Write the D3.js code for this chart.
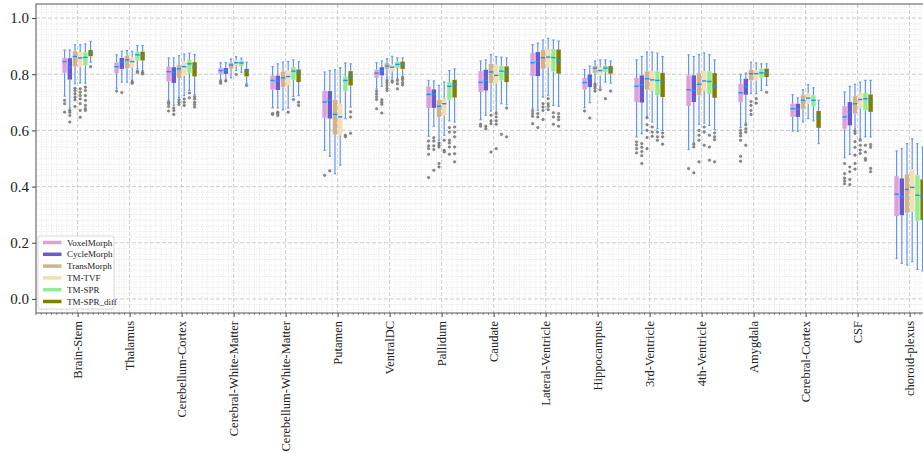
<!DOCTYPE html>
<html>
<head>
<meta charset="utf-8">
<script src="https://cdn.jsdelivr.net/npm/d3@7"></script>
<style>
  body { margin: 0; background: #fff; }
  svg { display: block; font-family: "Liberation Serif", "DejaVu Serif", serif; }
</style>
</head>
<body>
<div id="chart"></div>
<script>
// regions on the x axis
const categories = ["Brain-Stem", "Thalamus", "Cerebellum-Cortex", "Cerebral-White-Matter",
    "Cerebellum-White-Matter", "Putamen", "VentralDC", "Pallidum", "Caudate", "Lateral-Ventricle",
    "Hippocampus", "3rd-Ventricle", "4th-Ventricle", "Amygdala", "Cerebral-Cortex", "CSF", "choroid-plexus"];

const seriesNames = ["VoxelMorph", "CycleMorph", "TransMorph", "TM-TVF", "TM-SPR", "TM-SPR_diff"];

const yTicks = [0.0, 0.2, 0.4, 0.6, 0.8, 1.0];

// each box: [whisker low, q1, median, q3, whisker high]
const voxelMorph = [
    [0.722, 0.805, 0.845, 0.858, 0.886], [0.75, 0.804, 0.827, 0.841, 0.869], [0.707, 0.774, 0.809, 0.827, 0.858],
    [0.78, 0.801, 0.813, 0.822, 0.841], [0.68, 0.745, 0.778, 0.795, 0.827], [0.529, 0.645, 0.701, 0.74, 0.808],
    [0.748, 0.787, 0.804, 0.816, 0.841], [0.579, 0.68, 0.728, 0.757, 0.778], [0.638, 0.737, 0.771, 0.811, 0.847],
    [0.677, 0.793, 0.841, 0.876, 0.905], [0.681, 0.745, 0.77, 0.787, 0.817], [0.577, 0.701, 0.757, 0.787, 0.851],
    [0.532, 0.687, 0.745, 0.796, 0.869], [0.61, 0.701, 0.734, 0.766, 0.799], [0.598, 0.648, 0.677, 0.695, 0.727],
    [0.503, 0.606, 0.648, 0.686, 0.737], [0.145, 0.295, 0.373, 0.437, 0.527]
];
const cycleMorph = [
    [0.68, 0.781, 0.825, 0.857, 0.886], [0.772, 0.819, 0.843, 0.858, 0.882], [0.689, 0.769, 0.807, 0.825, 0.858],
    [0.78, 0.801, 0.813, 0.822, 0.841], [0.68, 0.744, 0.775, 0.795, 0.837], [0.508, 0.642, 0.707, 0.74, 0.813],
    [0.757, 0.796, 0.813, 0.825, 0.847], [0.615, 0.68, 0.728, 0.746, 0.776], [0.654, 0.742, 0.778, 0.816, 0.851],
    [0.671, 0.793, 0.845, 0.879, 0.911], [0.699, 0.754, 0.786, 0.799, 0.829], [0.588, 0.699, 0.763, 0.796, 0.863],
    [0.555, 0.701, 0.742, 0.796, 0.863], [0.626, 0.727, 0.755, 0.784, 0.804], [0.597, 0.648, 0.675, 0.695, 0.716],
    [0.515, 0.618, 0.666, 0.701, 0.757], [0.127, 0.298, 0.364, 0.429, 0.535]
];
const transMorph = [
    [0.766, 0.828, 0.863, 0.882, 0.905], [0.772, 0.821, 0.851, 0.866, 0.884], [0.718, 0.787, 0.819, 0.833, 0.866],
    [0.787, 0.819, 0.833, 0.841, 0.854], [0.673, 0.754, 0.787, 0.809, 0.843], [0.446, 0.585, 0.657, 0.709, 0.816],
    [0.787, 0.817, 0.829, 0.84, 0.855], [0.565, 0.648, 0.686, 0.709, 0.76], [0.669, 0.768, 0.808, 0.837, 0.87],
    [0.719, 0.819, 0.859, 0.887, 0.922], [0.768, 0.805, 0.822, 0.829, 0.847], [0.648, 0.745, 0.784, 0.81, 0.879],
    [0.622, 0.725, 0.764, 0.804, 0.87], [0.731, 0.778, 0.802, 0.816, 0.843], [0.63, 0.677, 0.707, 0.725, 0.745],
    [0.605, 0.66, 0.695, 0.722, 0.764], [0.121, 0.307, 0.39, 0.444, 0.553]
];
const tmTVF = [
    [0.769, 0.827, 0.858, 0.878, 0.905], [0.778, 0.825, 0.845, 0.86, 0.882], [0.724, 0.795, 0.827, 0.845, 0.872],
    [0.813, 0.833, 0.841, 0.849, 0.863], [0.68, 0.762, 0.792, 0.813, 0.845], [0.476, 0.583, 0.648, 0.695, 0.823],
    [0.787, 0.811, 0.825, 0.834, 0.864], [0.583, 0.654, 0.695, 0.713, 0.772], [0.665, 0.768, 0.796, 0.834, 0.863],
    [0.725, 0.825, 0.861, 0.89, 0.928], [0.754, 0.796, 0.813, 0.825, 0.851], [0.63, 0.742, 0.78, 0.811, 0.879],
    [0.626, 0.74, 0.776, 0.811, 0.876], [0.731, 0.778, 0.802, 0.813, 0.84], [0.642, 0.695, 0.715, 0.731, 0.763],
    [0.571, 0.68, 0.71, 0.734, 0.772], [0.133, 0.31, 0.397, 0.461, 0.571]
];
const tmSPR = [
    [0.768, 0.831, 0.86, 0.878, 0.908], [0.819, 0.849, 0.869, 0.88, 0.902], [0.742, 0.805, 0.837, 0.851, 0.875],
    [0.807, 0.828, 0.84, 0.849, 0.857], [0.721, 0.78, 0.811, 0.825, 0.851], [0.642, 0.739, 0.778, 0.792, 0.84],
    [0.784, 0.822, 0.835, 0.845, 0.858], [0.634, 0.709, 0.757, 0.772, 0.813], [0.695, 0.778, 0.811, 0.831, 0.861],
    [0.689, 0.81, 0.859, 0.89, 0.922], [0.772, 0.808, 0.822, 0.831, 0.851], [0.606, 0.725, 0.778, 0.81, 0.875],
    [0.618, 0.73, 0.774, 0.81, 0.87], [0.742, 0.788, 0.805, 0.82, 0.837], [0.634, 0.686, 0.707, 0.725, 0.752],
    [0.577, 0.671, 0.713, 0.733, 0.778], [0.105, 0.278, 0.369, 0.44, 0.553]
];
const tmSPRdiff = [
    [0.843, 0.864, 0.875, 0.886, 0.917], [0.813, 0.849, 0.866, 0.88, 0.902], [0.727, 0.792, 0.825, 0.843, 0.87],
    [0.766, 0.792, 0.811, 0.819, 0.843], [0.724, 0.772, 0.804, 0.817, 0.845], [0.683, 0.76, 0.792, 0.811, 0.837],
    [0.792, 0.819, 0.837, 0.845, 0.858], [0.63, 0.717, 0.764, 0.78, 0.819], [0.691, 0.772, 0.808, 0.828, 0.858],
    [0.686, 0.802, 0.849, 0.888, 0.918], [0.768, 0.802, 0.819, 0.829, 0.847], [0.6, 0.719, 0.774, 0.805, 0.863],
    [0.603, 0.716, 0.757, 0.804, 0.851], [0.76, 0.79, 0.805, 0.82, 0.837], [0.553, 0.609, 0.648, 0.669, 0.707],
    [0.577, 0.666, 0.704, 0.728, 0.778], [0.1, 0.281, 0.364, 0.426, 0.541]
];

// outliers per region
const voxelMorphOut = [[0.707, 0.695, 0.665], [0.74], [0.7, 0.695, 0.685, 0.669], [0.775, 0.768], [0.66, 0.657],
    [0.44], [0.74, 0.73, 0.72, 0.71, 0.677], [0.562, 0.545, 0.535, 0.515, 0.432], [0.622, 0.615],
    [0.67, 0.66, 0.65, 0.624], [0.669], [0.559, 0.548, 0.535, 0.52], [0.464], [0.6, 0.59, 0.58, 0.565, 0.508, 0.49],
    [], [0.482, 0.446, 0.43, 0.42, 0.41], []];
const cycleMorphOut = [[0.672, 0.665, 0.653, 0.63], [0.735], [0.68, 0.671, 0.657], [0.776], [0.665, 0.659, 0.653],
    [0.456], [0.709, 0.7, 0.693, 0.662], [0.574, 0.562, 0.545, 0.532, 0.458], [0.615, 0.606], [0.66, 0.648, 0.61],
    [0.644], [0.553, 0.54, 0.525, 0.51, 0.482], [0.551, 0.541, 0.449], [0.62, 0.606, 0.594, 0.547], [],
    [0.47, 0.453, 0.425, 0.407], []];
const transMorphOut = [[0.75, 0.742, 0.73, 0.718, 0.709, 0.685], [], [0.709, 0.7, 0.692], [], [], [],
    [0.778, 0.77, 0.76, 0.75, 0.742], [0.555, 0.547, 0.541, 0.482, 0.47], [0.654, 0.634, 0.624, 0.523],
    [0.695, 0.683, 0.671, 0.639], [0.764, 0.757, 0.75, 0.74], [0.645, 0.62, 0.6, 0.575, 0.535],
    [0.6, 0.583, 0.565, 0.488], [0.703, 0.689, 0.671, 0.657], [], [0.598, 0.589, 0.56, 0.54, 0.512, 0.482, 0.462], []];
const tmTVFOut = [[0.748, 0.736, 0.724, 0.712, 0.695, 0.671, 0.647], [0.772, 0.768], [0.712, 0.7, 0.689], [0.799],
    [0.665], [], [0.777, 0.772], [0.565, 0.529, 0.523], [0.66, 0.648, 0.634, 0.622, 0.535], [0.713, 0.695, 0.686, 0.674],
    [0.745], [0.612, 0.594, 0.579], [0.612, 0.594, 0.547], [0.713, 0.697], [], [0.565, 0.547, 0.53, 0.518], []];
const tmSPROut = [[0.754, 0.742, 0.724, 0.707, 0.689, 0.677, 0.671], [0.81, 0.806], [0.733, 0.716], [], [0.71],
    [0.583, 0.577], [0.778, 0.766, 0.748], [0.61, 0.594, 0.565, 0.555, 0.541, 0.515], [0.586], [0.663, 0.648, 0.622],
    [0.713], [0.594, 0.577, 0.565], [0.583, 0.541, 0.494], [], [], [0.547, 0.523, 0.5, 0.494], []];
const tmSPRdiffOut = [[0.827], [0.807, 0.801], [0.72, 0.712, 0.7, 0.692, 0.683], [0.76], [0.7, 0.689],
    [0.666, 0.648, 0.59], [0.787, 0.78, 0.77, 0.762], [0.612, 0.594, 0.577, 0.541, 0.517, 0.488], [0.68, 0.577],
    [0.66, 0.648, 0.638, 0.615], [0.74], [0.591, 0.577, 0.551], [0.591, 0.577, 0.567, 0.488], [0.736], [],
    [0.55, 0.54, 0.465, 0.453], []];

const seriesStats = [voxelMorph, cycleMorph, transMorph, tmTVF, tmSPR, tmSPRdiff];
const seriesOut = [voxelMorphOut, cycleMorphOut, transMorphOut, tmTVFOut, tmSPROut, tmSPRdiffOut];
const colors = ["#dda0dd", "#6a5acd", "#d2b48c", "#f5deb3", "#90ee90", "#808000"];
const offsets = [-0.25, -0.15, -0.05, 0.05, 0.15, 0.25];

const width = 923, height = 453;
const margin = {top: 4, left: 36, bottom: 140};
const unit = 52; // px per category

const svg = d3.select("#chart").append("svg")
    .attr("width", width)
    .attr("height", height);

const x = d3.scaleLinear().domain([0.2, 17.8]).range([margin.left, margin.left + 17.6 * unit]);
const y = d3.scaleLinear().domain([-0.05, 1.05]).range([height - margin.bottom, margin.top]);

const plotTop = margin.top, plotBottom = height - margin.bottom;
const plotRight = x(17.8);

svg.append("clipPath").attr("id", "clip")
    .append("rect")
    .attr("x", margin.left).attr("y", plotTop)
    .attr("width", plotRight - margin.left).attr("height", plotBottom - plotTop);

const grid = svg.append("g").attr("clip-path", "url(#clip)");

// minor grid
const xMinor = d3.range(2, 179).map(d => d / 10).filter(d => Math.abs(d - Math.round(d)) > 1e-6);
const yMinor = d3.range(-2, 53).map(d => d / 50).filter(d => Math.abs(d * 5 - Math.round(d * 5)) > 1e-6);

grid.selectAll(".xminor").data(xMinor).enter().append("line")
    .attr("x1", d => x(d)).attr("x2", d => x(d))
    .attr("y1", plotTop).attr("y2", plotBottom)
    .attr("stroke", "#e0e0e0").attr("stroke-width", 0.8).attr("stroke-dasharray", "1,1.5");
grid.selectAll(".yminor").data(yMinor).enter().append("line")
    .attr("x1", margin.left).attr("x2", plotRight)
    .attr("y1", d => y(d)).attr("y2", d => y(d))
    .attr("stroke", "#e0e0e0").attr("stroke-width", 0.8).attr("stroke-dasharray", "1,1.5");

// major grid
grid.selectAll(".xmajor").data(d3.range(1, 18)).enter().append("line")
    .attr("x1", d => x(d)).attr("x2", d => x(d))
    .attr("y1", plotTop).attr("y2", plotBottom)
    .attr("stroke", "#c8c8c8").attr("stroke-width", 0.9).attr("stroke-dasharray", "4,2");
grid.selectAll(".ymajor").data(yTicks).enter().append("line")
    .attr("x1", margin.left).attr("x2", plotRight)
    .attr("y1", d => y(d)).attr("y2", d => y(d))
    .attr("stroke", "#c8c8c8").attr("stroke-width", 0.9).attr("stroke-dasharray", "4,2");

// boxes
const boxW = 0.085 * unit;
const capW = boxW / 2;
const marks = svg.append("g").attr("clip-path", "url(#clip)");

seriesStats.forEach((stats, s) => {
    const g = marks.append("g");
    const items = stats.map((v, i) => ({cx: x(i + 1 + offsets[s]), v: v, out: seriesOut[s][i]}));

    // whiskers
    g.selectAll(".wlo").data(items).enter().append("line")
        .attr("x1", d => d.cx).attr("x2", d => d.cx)
        .attr("y1", d => y(d.v[0])).attr("y2", d => y(d.v[1]))
        .attr("stroke", "#6495ed").attr("stroke-width", 1.2);
    g.selectAll(".whi").data(items).enter().append("line")
        .attr("x1", d => d.cx).attr("x2", d => d.cx)
        .attr("y1", d => y(d.v[3])).attr("y2", d => y(d.v[4]))
        .attr("stroke", "#6495ed").attr("stroke-width", 1.2);
    // caps
    [0, 4].forEach(k => {
        g.selectAll(".cap" + k).data(items).enter().append("line")
            .attr("x1", d => d.cx - capW / 2).attr("x2", d => d.cx + capW / 2)
            .attr("y1", d => y(d.v[k])).attr("y2", d => y(d.v[k]))
            .attr("stroke", "#6495ed").attr("stroke-width", 1.2);
    });

    g.selectAll("rect").data(items).enter().append("rect")
        .attr("x", d => d.cx - boxW / 2)
        .attr("width", boxW)
        .attr("y", d => y(d.v[3]))
        .attr("height", d => y(d.v[1]) - y(d.v[3]))
        .attr("fill", colors[s]);

    g.selectAll(".med").data(items).enter().append("line")
        .attr("x1", d => d.cx - boxW / 2).attr("x2", d => d.cx + boxW / 2)
        .attr("y1", d => y(d.v[2])).attr("y2", d => y(d.v[2]))
        .attr("stroke", "#1e90ff").attr("stroke-width", 1.4);

    // fliers
    const fl = items.flatMap(d => d.out.map(o => ({cx: d.cx, o: o})));
    g.selectAll("circle").data(fl).enter().append("circle")
        .attr("cx", d => d.cx).attr("cy", d => y(d.o))
        .attr("r", 1.3)
        .attr("fill", "#8a8a8a").attr("stroke", "#606060").attr("stroke-width", 0.4);
});

// frame
svg.append("rect")
    .attr("x", margin.left).attr("y", plotTop)
    .attr("width", plotRight - margin.left).attr("height", plotBottom - plotTop)
    .attr("fill", "none").attr("stroke", "#555").attr("stroke-width", 1);

// y axis
const yAxis = svg.append("g")
    .attr("transform", `translate(${margin.left},0)`)
    .call(d3.axisLeft(y).tickValues(yTicks).tickFormat(d3.format(".1f")).tickSize(4).tickPadding(3));
yAxis.select(".domain").remove();
yAxis.selectAll("text").attr("font-size", 15).attr("fill", "#222").attr("font-family", "Liberation Serif");
yAxis.selectAll("line").attr("stroke", "#444");

// x axis minor ticks
svg.append("g").selectAll("line").data(xMinor).enter().append("line")
    .attr("x1", d => x(d)).attr("x2", d => x(d))
    .attr("y1", plotBottom).attr("y2", plotBottom + 2)
    .attr("stroke", "#555").attr("stroke-width", 0.7);

const xAxis = svg.append("g")
    .attr("transform", `translate(0,${plotBottom})`)
    .call(d3.axisBottom(x).tickValues(d3.range(1, 18)).tickFormat(d => categories[d - 1]).tickSize(4));
xAxis.select(".domain").remove();
xAxis.selectAll("line").attr("stroke", "#444");
xAxis.selectAll("text")
    .attr("font-size", 12.5).attr("fill", "#222").attr("font-family", "Liberation Serif")
    .attr("transform", "rotate(-90)")
    .attr("text-anchor", "end")
    .attr("x", -8).attr("y", 0).attr("dy", "0.35em");

// legend
const legend = svg.append("g").attr("transform", "translate(38,236)");
legend.append("rect")
    .attr("width", 76).attr("height", 73).attr("rx", 2)
    .attr("fill", "#fff").attr("fill-opacity", 0.85)
    .attr("stroke", "#d0d0d0").attr("stroke-width", 0.8);
seriesNames.forEach((name, i) => {
    const ly = 6.5 + i * 11.8;
    legend.append("line")
        .attr("x1", 5).attr("x2", 23.5).attr("y1", ly).attr("y2", ly)
        .attr("stroke", colors[i]).attr("stroke-width", 3.5);
    legend.append("text")
        .attr("x", 29).attr("y", ly).attr("dy", "0.35em")
        .attr("font-size", 9).attr("fill", "#222")
        .text(name);
});
</script>
</body>
</html>
